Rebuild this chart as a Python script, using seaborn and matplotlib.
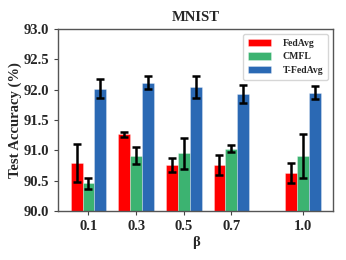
import numpy as np
import pandas as pd
import seaborn as sns
import matplotlib
matplotlib.use("Agg")
import matplotlib.pyplot as plt

betas = [0.1, 0.3, 0.5, 0.7, 1.0]
methods = ["FedAvg", "CMFL", "T-FedAvg"]
fedavg = [90.79, 91.27, 90.76, 90.76, 90.63]
fedavg_err = [0.31, 0.04, 0.11, 0.16, 0.17]
cmfl = [90.46, 90.91, 90.95, 91.03, 90.91]
cmfl_err = [0.09, 0.14, 0.26, 0.06, 0.36]
tfedavg = [92.02, 92.12, 92.05, 91.93, 91.95]
tfedavg_err = [0.15, 0.11, 0.18, 0.15, 0.11]
colors = ["#ff0000", "#3cb371", "#2b69b4"]

df = pd.DataFrame({
    "beta": betas * 3,
    "acc": fedavg + cmfl + tfedavg,
    "err": fedavg_err + cmfl_err + tfedavg_err,
    "method": sum([[m] * len(betas) for m in methods], []),
})

sns.set_style("ticks")
plt.rcParams["font.family"] = ["Liberation Serif", "DejaVu Serif"]
plt.rcParams["font.weight"] = "bold"
plt.rcParams["axes.labelweight"] = "bold"
plt.rcParams["axes.titleweight"] = "bold"

fig, ax = plt.subplots(figsize=(3.46, 2.6), dpi=100)
sns.barplot(data=df, x="beta", y="acc", hue="method", palette=colors,
            saturation=1, native_scale=True, width=0.75, errorbar=None, ax=ax,
            edgecolor=(1, 1, 1, 0.35), linewidth=0.6)

# error bars on top of dodged bars
bw = 0.05
for i, m in enumerate(methods):
    sub = df[df["method"] == m]
    xs = np.array(sub["beta"]) + (i - 1) * bw
    ax.errorbar(xs, sub["acc"], yerr=sub["err"], fmt="none", ecolor="black",
                elinewidth=1.8, capsize=3, capthick=1.8)

ax.set_ylim(90.0, 93.0)
ax.set_yticks(np.arange(90.0, 93.01, 0.5))
ax.set_xticks(betas)
ax.set_xticklabels([str(b) for b in betas])
ax.set_xlim(-0.0275, 1.1275)
ax.tick_params(labelsize=10.5, width=0.8, length=3, color="#444444")
for lab in ax.get_xticklabels() + ax.get_yticklabels():
    lab.set_fontweight("bold")
for s in ax.spines.values():
    s.set_visible(True)
    s.set_color("#555555")
    s.set_linewidth(1.0)

ax.set_title("MNIST", fontsize=10.5, pad=6)
ax.set_xlabel("β", fontsize=10.5, labelpad=2)
ax.set_ylabel("Test Accuracy (%)", fontsize=10.5, labelpad=1)
ax.legend(loc="upper right", fontsize=7, frameon=True, title=None,
          handlelength=2.4, handleheight=0.8, borderpad=0.5, labelspacing=0.45,
          handletextpad=1.2)

fig.subplots_adjust(left=0.168, right=0.963, top=0.888, bottom=0.188)
fig.savefig("out.png", dpi=100)
